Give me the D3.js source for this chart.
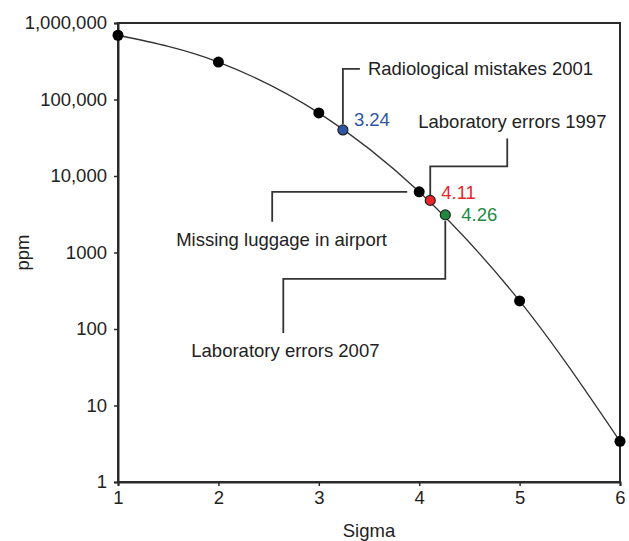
<!DOCTYPE html>
<html lang="en">
<head>
<meta charset="UTF-8">
<title>Sigma vs ppm</title>
<style>
  body { margin: 0; background: #fff; }
  text { font-family: "Liberation Sans", Arial, sans-serif; fill: #222; }
</style>
</head>
<body>
<svg></svg>
<script src="https://d3js.org/d3.v7.min.js"></script>
<script>
// defects per million at each sigma level
const sigmaLevels = [1, 2, 3, 4, 5, 6];
const ppmValues = [691462, 308538, 66807, 6210, 233, 3.4];

// highlighted cases
const caseSigma = [3.24, 4.11, 4.26];
const casePpm = [40000, 4800, 3100];
const caseColors = ['#2f56a6', '#e8262a', '#1f8a3f'];
const caseNames = ['Radiological mistakes 2001', 'Laboratory errors 1997', 'Laboratory errors 2007'];

const yTicks = [1, 10, 100, 1000, 10000, 100000, 1000000];
const yTickLabels = ['1', '10', '100', '1000', '10,000', '100,000', '1,000,000'];

const margin = { top: 23, right: 9, bottom: 59, left: 118 };
const width = 629 - margin.left - margin.right;
const height = 541 - margin.top - margin.bottom;
const fs = 18.5;

const x = d3.scaleLinear().domain([1, 6]).range([0, width]);
const y = d3.scaleLog().domain([1, 1000000]).range([height, 0]);

const svg = d3.select('svg')
  .attr('width', 629)
  .attr('height', 541)
  .append('g')
  .attr('transform', `translate(${margin.left},${margin.top})`);

// frame
svg.append('rect')
  .attr('width', width).attr('height', height)
  .attr('fill', 'none').attr('stroke', '#2a2a2a').attr('stroke-width', 2);

const xAxis = svg.append('g')
  .attr('transform', `translate(0,${height})`)
  .call(d3.axisBottom(x).tickValues(sigmaLevels).tickFormat(d3.format('d')).tickSize(4).tickPadding(5));

const yAxis = svg.append('g')
  .call(d3.axisLeft(y).tickValues(yTicks).tickFormat((d, i) => yTickLabels[i]).tickSize(4).tickPadding(7));

[xAxis, yAxis].forEach(a => {
  a.attr('font-size', fs).attr('font-family', '"Liberation Sans", Arial, sans-serif');
  a.select('.domain').attr('stroke', '#2a2a2a').attr('stroke-width', 2);
  a.selectAll('.tick line').attr('stroke', '#2a2a2a').attr('stroke-width', 1.5);
  a.selectAll('.tick text').attr('fill', '#222');
});

svg.append('text')
  .attr('x', width / 2).attr('y', height + 55)
  .attr('text-anchor', 'middle').attr('font-size', fs)
  .text('Sigma');

svg.append('text')
  .attr('transform', `translate(${-89},${height / 2}) rotate(-90)`)
  .attr('text-anchor', 'middle').attr('font-size', fs)
  .text('ppm');

// curve
const pts = sigmaLevels.map((s, i) => [s, ppmValues[i]]);
svg.append('path')
  .datum(pts)
  .attr('fill', 'none')
  .attr('stroke', '#333')
  .attr('stroke-width', 1.3)
  .attr('d', d3.line().x(d => x(d[0])).y(d => y(d[1])).curve(d3.curveMonotoneX));

// callout leader lines
const callout = (pts) => svg.append('polyline')
  .attr('points', pts.map(p => p.join(',')).join(' '))
  .attr('fill', 'none').attr('stroke', '#333').attr('stroke-width', 1.8);

const bx = x(caseSigma[0]), by = y(casePpm[0]);
callout([[bx + 17, by - 61], [bx, by - 61], [bx, by - 6]]);
svg.append('text').attr('x', bx + 25).attr('y', by - 55).attr('font-size', fs).text(caseNames[0]);

const rx = x(caseSigma[1]), ry = y(casePpm[1]);
callout([[rx, ry - 5], [rx, ry - 34], [rx + 77, ry - 34], [rx + 77, ry - 62]]);
svg.append('text').attr('x', rx - 12).attr('y', ry - 72).attr('font-size', fs).text(caseNames[1]);

const gx = x(caseSigma[2]), gy = y(casePpm[2]);
callout([[gx, gy + 6], [gx, gy + 64], [gx - 162, gy + 64], [gx - 162, gy + 118]]);
svg.append('text').attr('x', gx - 254).attr('y', gy + 142).attr('font-size', fs).text(caseNames[2]);

// missing luggage callout at sigma 4
const lx = x(sigmaLevels[3]), ly = y(ppmValues[3]);
callout([[lx - 12, ly + 0], [lx - 147, ly + 0], [lx - 147, ly + 30]]);
svg.append('text').attr('x', lx - 243).attr('y', ly + 54).attr('font-size', fs).text('Missing luggage in airport');

// points
svg.selectAll('.pt')
  .data(pts)
  .enter()
  .append('circle')
  .attr('class', 'pt')
  .attr('cx', d => x(d[0]))
  .attr('cy', d => y(d[1]))
  .attr('r', 5.5)
  .attr('fill', '#000');

svg.selectAll('.case')
  .data(caseSigma)
  .enter()
  .append('circle')
  .attr('class', 'case')
  .attr('cx', d => x(d))
  .attr('cy', (d, i) => y(casePpm[i]))
  .attr('r', 5)
  .attr('fill', (d, i) => caseColors[i])
  .attr('stroke', '#222').attr('stroke-width', 1.2);

const labelOffsets = [[11, -4], [11, -1], [16, 6]];
svg.selectAll('.case-label')
  .data(caseSigma)
  .enter()
  .append('text')
  .attr('class', 'case-label')
  .attr('x', (d, i) => x(d) + labelOffsets[i][0])
  .attr('y', (d, i) => y(casePpm[i]) + labelOffsets[i][1])
  .attr('font-size', fs)
  .style('fill', (d, i) => caseColors[i])
  .text(d => d3.format('.2f')(d));
</script>
</body>
</html>
